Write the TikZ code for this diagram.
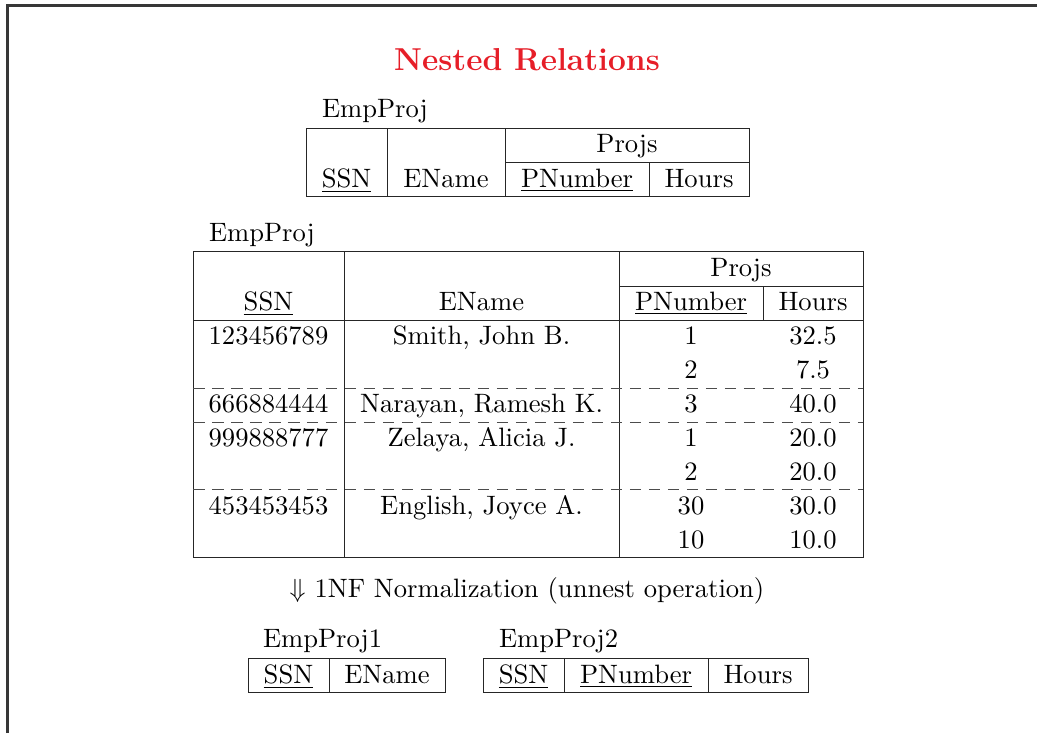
\documentclass[tikz,border=0pt]{standalone}
\definecolor{titlered}{RGB}{230,30,40}
\definecolor{framegray}{RGB}{55,55,55}
\tikzset{
  cell/.style={anchor=base, inner sep=0pt, outer sep=0pt},
  caption/.style={anchor=base west, inner sep=0pt, outer sep=0pt},
  heading/.style={anchor=base, inner sep=0pt, font=\fontsize{12.1}{14}\selectfont\bfseries, text=titlered},
  rule/.style={line width=0.35pt, draw=black!85},
  dashrule/.style={line width=0.35pt, draw=black!70, dash pattern=on 4.4pt off 2.85pt},
  framerule/.style={line width=0.8pt, draw=framegray}
}
\begin{document}
\begin{tikzpicture}[x=0.3817pt, y=-0.3817pt, font=\fontsize{10.15}{12}\selectfont]
\useasboundingbox (0,0) rectangle (1037,733);

% slide frame
\draw[framerule] (7.5,733) -- (7.5,5.5) -- (1037,5.5);

% title
\node[heading] (title) at (527,70) {Nested Relations};

% ---- schema of EmpProj ----
\node[caption] (schemaname) at (322,117) {EmpProj};
\draw[rule] (306,128) rectangle (749,196);
\draw[rule] (387,128) -- (387,196);
\draw[rule] (505,128) -- (505,196);
\draw[rule] (505,162) -- (749,162);
\draw[rule] (649,162) -- (649,196);
\node[cell] (sssn) at (346.5,187) {\underline{SSN}};
\node[cell] (sename) at (446,187) {EName};
\node[cell] (sprojs) at (627,152) {Projs};
\node[cell] (spnum) at (577,187) {\underline{PNumber}};
\node[cell] (shours) at (699,187) {Hours};

% ---- nested instance of EmpProj ----
\node[caption] (instname) at (209,241) {EmpProj};
\draw[rule] (193,251) rectangle (863,557);
\draw[rule] (344,251) -- (344,557);
\draw[rule] (619,251) -- (619,557);
\draw[rule] (619,286) -- (863,286);
\draw[rule] (763,286) -- (763,320);
\draw[rule] (193,320) -- (863,320);
\draw[dashrule] (193,388) -- (863,388);
\draw[dashrule] (193,422) -- (863,422);
\draw[dashrule] (193,489.5) -- (863,489.5);

\node[cell] (hprojs) at (741,276) {Projs};
\node[cell] (hssn) at (268.5,310) {\underline{SSN}};
\node[cell] (hename) at (481.5,310) {EName};
\node[cell] (hpnum) at (691,310) {\underline{PNumber}};
\node[cell] (hhours) at (813,310) {Hours};

\node[cell] (ssn1) at (268.5,344) {123456789};
\node[cell] (name1) at (481.5,344) {Smith, John B.};
\node[cell] (pn1a) at (691,344) {1};
\node[cell] (hr1a) at (813,344) {32.5};
\node[cell] (pn1b) at (691,378) {2};
\node[cell] (hr1b) at (813,378) {7.5};

\node[cell] (ssn2) at (268.5,412) {666884444};
\node[cell] (name2) at (481.5,412) {Narayan, Ramesh K.};
\node[cell] (pn2a) at (691,412) {3};
\node[cell] (hr2a) at (813,412) {40.0};

\node[cell] (ssn3) at (268.5,446) {999888777};
\node[cell] (name3) at (481.5,446) {Zelaya, Alicia J.};
\node[cell] (pn3a) at (691,446) {1};
\node[cell] (hr3a) at (813,446) {20.0};
\node[cell] (pn3b) at (691,480) {2};
\node[cell] (hr3b) at (813,480) {20.0};

\node[cell] (ssn4) at (268.5,514) {453453453};
\node[cell] (name4) at (481.5,514) {English, Joyce A.};
\node[cell] (pn4a) at (691,514) {30};
\node[cell] (hr4a) at (813,514) {30.0};
\node[cell] (pn4b) at (691,548) {10};
\node[cell] (hr4b) at (813,548) {10.0};

% ---- normalization step ----
\node[cell] (step1nf) at (527,597) {$\Downarrow$ 1NF Normalization (unnest operation)};

% ---- EmpProj1 ----
\node[caption] (ep1name) at (263,647) {EmpProj1};
\draw[rule] (248,658) rectangle (445,692);
\draw[rule] (329,658) -- (329,692);
\node[cell] (ep1ssn) at (288.5,683) {\underline{SSN}};
\node[cell] (ep1ename) at (387,683) {EName};

% ---- EmpProj2 ----
\node[caption] (ep2name) at (499,647) {EmpProj2};
\draw[rule] (483,658) rectangle (808,692);
\draw[rule] (564,658) -- (564,692);
\draw[rule] (708,658) -- (708,692);
\node[cell] (ep2ssn) at (523.5,683) {\underline{SSN}};
\node[cell] (ep2pnum) at (636,683) {\underline{PNumber}};
\node[cell] (ep2hours) at (758,683) {Hours};
\end{tikzpicture}
\end{document}
